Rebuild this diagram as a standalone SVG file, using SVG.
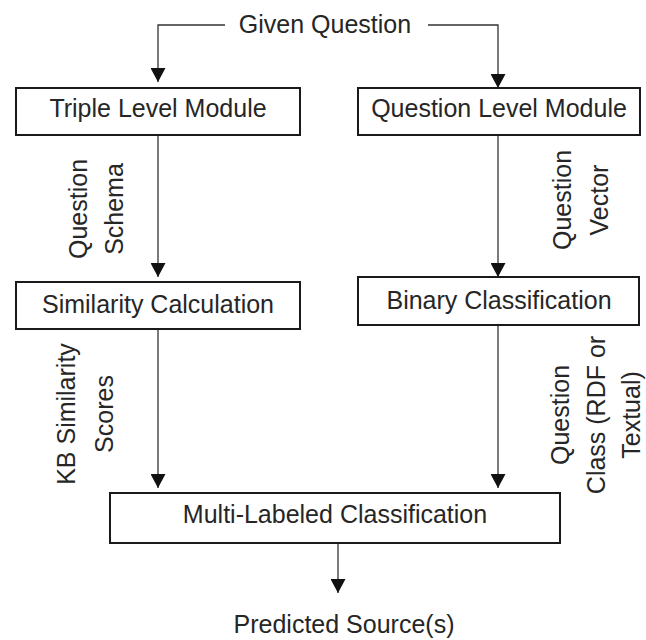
<svg xmlns="http://www.w3.org/2000/svg" width="646" height="640" viewBox="0 0 646 640">
  <style>
    .box { fill: #ffffff; stroke: #1a1a1a; stroke-width: 2; }
    .lbl { font-family: "Liberation Sans", Arial, sans-serif; font-size: 25px; fill: #262626; }
    .mid { text-anchor: middle; }
    .wire { fill: none; stroke: #333333; stroke-width: 1.3; }
  </style>
  <defs>
    <marker id="arrow" viewBox="0 0 14 15" refX="14" refY="7.5" markerWidth="14" markerHeight="15" markerUnits="userSpaceOnUse" orient="auto">
      <path d="M0,0 L14,7.5 L0,15 Z" fill="#111111"/>
    </marker>
  </defs>
  <rect width="646" height="640" fill="#ffffff"/>

  <g id="connectors">
    <path class="wire" d="M225,25 H158 V82" marker-end="url(#arrow)"/>
    <path class="wire" d="M428,25 H498 V88" marker-end="url(#arrow)"/>
    <path class="wire" d="M158,135 V277" marker-end="url(#arrow)"/>
    <path class="wire" d="M498,135 V277" marker-end="url(#arrow)"/>
    <path class="wire" d="M158,329 V488" marker-end="url(#arrow)"/>
    <path class="wire" d="M498,325 V488" marker-end="url(#arrow)"/>
    <path class="wire" d="M338,543 V593" marker-end="url(#arrow)"/>
  </g>

  <g id="given-question">
    <text class="lbl mid" x="325" y="33">Given Question</text>
  </g>

  <g id="triple-level-module">
    <rect class="box" x="16" y="88" width="284" height="47"/>
    <text class="lbl mid" x="158" y="117">Triple Level Module</text>
  </g>

  <g id="question-level-module">
    <rect class="box" x="358" y="88" width="282" height="47"/>
    <text class="lbl mid" x="499" y="117">Question Level Module</text>
  </g>

  <g id="similarity-calculation">
    <rect class="box" x="16" y="282" width="284" height="47"/>
    <text class="lbl mid" x="158" y="313">Similarity Calculation</text>
  </g>

  <g id="binary-classification">
    <rect class="box" x="358" y="277" width="281" height="48"/>
    <text class="lbl mid" x="499" y="309">Binary Classification</text>
  </g>

  <g id="multi-labeled-classification">
    <rect class="box" x="110" y="493" width="450" height="50"/>
    <text class="lbl mid" x="335" y="523">Multi-Labeled Classification</text>
  </g>

  <g id="predicted-sources">
    <text class="lbl mid" x="344" y="633">Predicted Source(s)</text>
  </g>

  <g id="edge-labels">
    <text class="lbl mid" transform="translate(87,209) rotate(-90)"><tspan x="0" y="0">Question</tspan><tspan x="0" y="36">Schema</tspan></text>
    <text class="lbl mid" transform="translate(571,200) rotate(-90)"><tspan x="0" y="0">Question</tspan><tspan x="0" y="37">Vector</tspan></text>
    <text class="lbl mid" transform="translate(75,414) rotate(-90)"><tspan x="0" y="0">KB Similarity</tspan><tspan x="0" y="38">Scores</tspan></text>
    <text class="lbl mid" transform="translate(569,415) rotate(-90)"><tspan x="0" y="0">Question</tspan><tspan x="0" y="36">Class (RDF or</tspan><tspan x="0" y="71">Textual)</tspan></text>
  </g>
</svg>
